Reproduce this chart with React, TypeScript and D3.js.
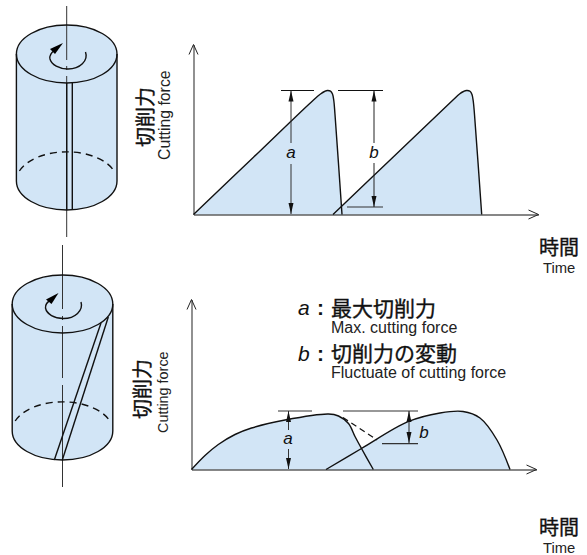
import React, { useEffect, useRef } from 'react';
import * as d3 from 'd3';

type Pt = [number, number];

// force curves [time, force]
const straightPulse1: Pt[] = [[0, 0], [60, 57.3], [120, 114.6], [127, 120.5], [131, 123], [134, 124], [137, 123.3], [139, 120.5], [140.3, 114], [141.5, 100], [148.5, 0]];
const straightPulse2: Pt[] = [[139.5, 0], [200, 57.7], [260, 115], [266, 120.5], [270, 123], [273, 124], [276.5, 123.3], [278.5, 120], [279.8, 113], [281, 100], [288.2, 0]];
const helicalPulse1: Pt[] = [[0, 0], [13.5, 14], [26.8, 25], [43.5, 35], [60, 41.5], [93.5, 49.5], [137, 55.5], [147, 53.5], [157, 46], [163.5, 33], [170, 21], [181.8, 0]];
const helicalPulse2: Pt[] = [[134.5, 0], [170, 21], [216.5, 47.8], [248.5, 56.5], [271.5, 58], [288.5, 51.5], [305.5, 29.5], [318.5, 0]];
const helicalDashed: Pt[] = [[151.5, 52], [185.5, 29.5]];

const sansFont = '"Liberation Sans", Arial, sans-serif';
const cjkFont = '"Noto Sans CJK JP", sans-serif';
const fillColor = '#d2e5f6';

const App = () => {
  const ref = useRef<SVGSVGElement>(null);

  useEffect(() => {
    const svg = d3.select(ref.current);
    svg.selectAll('*').remove();

    const text = (x, y, s, size, font, opts: any = {}) =>
      svg.append('text').attr('x', x).attr('y', y).text(s)
        .attr('font-size', size).attr('font-family', font)
        .attr('fill', opts.fill || '#111')
        .attr('stroke', opts.heavy ? '#111' : null)
        .attr('stroke-width', opts.heavy ? 0.35 : null)
        .attr('font-weight', opts.weight || 'normal')
        .attr('font-style', opts.style || 'normal')
        .attr('text-anchor', opts.anchor || 'start')
        .attr('transform', opts.rotate ? `rotate(-90 ${x} ${y})` : null);

    const seg = (g, x1, y1, x2, y2, color = '#111', width = 1.2) =>
      g.append('line').attr('x1', x1).attr('y1', y1).attr('x2', x2).attr('y2', y2)
        .attr('stroke', color).attr('stroke-width', width);

    // filled dimension arrow head, tip at (x, y), dir = 1 points down
    const head = (g, x, y, dir) =>
      g.append('path').attr('fill', '#111')
        .attr('d', `M${x},${y}L${x - 2.5},${y - dir * 11}L${x + 2.5},${y - dir * 11}Z`);

    // one chart panel: axes, pulses
    const panel = (ox, oy, pulses: Pt[][]) => {
      const x = d3.scaleLinear().domain([0, 345]).range([ox, ox + 345]);
      const y = d3.scaleLinear().domain([0, 170]).range([oy, oy - 170]);
      const g = svg.append('g');
      const area = d3.area<Pt>().x(d => x(d[0])).y0(y(0)).y1(d => y(d[1])).curve(d3.curveCatmullRom);
      const line = d3.line<Pt>().x(d => x(d[0])).y(d => y(d[1])).curve(d3.curveCatmullRom);

      g.selectAll('.fill').data(pulses).join('path').attr('fill', fillColor).attr('d', d => area(d));

      const ax = g.append('g').attr('transform', `translate(0,${oy})`).call(d3.axisBottom(x).ticks(0).tickSize(0).tickSizeOuter(0));
      ax.select('.domain').attr('stroke', '#111').attr('stroke-width', 1.2);
      const ay = g.append('g').attr('transform', `translate(${ox},0)`).call(d3.axisLeft(y).ticks(0).tickSize(0).tickSizeOuter(0));
      ay.select('.domain').attr('stroke', '#555').attr('stroke-width', 1.3);

      g.append('path').attr('fill', 'none').attr('stroke', '#222').attr('stroke-width', 1)
        .attr('d', `M${x(345) - 10},${oy - 4.5}L${x(345)},${oy}L${x(345) - 10},${oy + 4.5}`);
      g.append('path').attr('fill', 'none').attr('stroke', '#222').attr('stroke-width', 1)
        .attr('d', `M${ox - 4.5},${oy - 160}L${ox},${oy - 170}L${ox + 4.5},${oy - 160}`);

      g.selectAll('.curve').data(pulses).join('path').attr('fill', 'none').attr('stroke', '#111')
        .attr('stroke-width', 1.4).attr('d', d => line(d));
      return { g, x, y, line };
    };

    // cylinder with a cutting edge stripe and a centre axis
    const cylinder = (cx, top, bottom, axisSegs: number[][], edge: Pt[], swirl: string, arrow: string) => {
      const g = svg.append('g');
      const rx = 50.3, ry = 29;
      g.append('path').attr('fill', fillColor)
        .attr('d', `M${cx - rx},${top}A${rx},${ry} 0 0 1 ${cx + rx},${top}L${cx + rx},${bottom}A${rx},${ry} 0 0 1 ${cx - rx},${bottom}Z`);
      const st = { fill: 'none', stroke: '#111', 'stroke-width': 1.4 };
      const p = (d, dash = '') => {
        const e = g.append('path').attr('d', d);
        Object.entries(st).forEach(([k, v]) => e.attr(k, v as string));
        if (dash) e.attr('stroke-dasharray', dash);
        return e;
      };
      axisSegs.forEach(s => seg(g, cx, s[0], cx, s[1], '#333', 1));
      g.append('ellipse').attr('cx', cx).attr('cy', top).attr('rx', rx).attr('ry', ry)
        .attr('fill', 'none').attr('stroke', '#111').attr('stroke-width', 1.4);
      p(`M${cx - rx},${top}L${cx - rx},${bottom}A${rx},${ry} 0 0 0 ${cx + rx},${bottom}L${cx + rx},${top}`);
      // back edge of the bottom ellipse
      p(`M${cx - rx + 3},${bottom - 10}A${rx},${ry} 0 0 1 ${cx + rx - 3},${bottom - 10}`, '7 5');
      seg(g, edge[0][0], edge[0][1], edge[1][0], edge[1][1], '#111', 1.4);
      seg(g, edge[2][0], edge[2][1], edge[3][0], edge[3][1], '#111', 1.4);
      p(swirl);
      g.append('path').attr('fill', '#000').attr('d', arrow);
    };

    cylinder(66.7, 54, 181,
      [[6, 60], [66, 70], [76, 237]],
      [[66.7, 83], [66.7, 210], [72.3, 83], [72.3, 210]],
      'M85.5,52A18,13.5 0 0 1 68,69A18,12 0 0 1 50,59Q49,54 55,50',
      'M63,43L50,49L55,54Z');
    cylinder(62.5, 304, 431,
      [[245, 309], [316, 320], [326, 378], [385, 487]],
      [[54.3, 460], [101, 323], [62.3, 460], [108.3, 317]],
      'M81,302A18,13.5 0 0 1 63.5,318.5A18,12 0 0 1 45.5,308Q45,303 51,300',
      'M58.5,293L46,299.5L51.5,304Z');

    // straight tooth panel
    const top = panel(193.5, 214.5, [straightPulse1, straightPulse2]);
    const F = 124;
    const ty = top.y(F);
    seg(top.g, 281, ty, 314, ty);
    seg(top.g, 338, ty, 383, ty);
    seg(top.g, 347, 207, 383, 207, '#333');
    seg(top.g, 291, ty, 291, 143, '#333', 1);
    seg(top.g, 291, 164, 291, 214, '#333', 1);
    head(top.g, 291, ty, -1);
    head(top.g, 291, 214, 1);
    seg(top.g, 374, ty, 374, 143, '#222', 1);
    seg(top.g, 374, 163, 374, 207, '#222', 1);
    head(top.g, 374, ty, -1);
    head(top.g, 374, 207, 1);
    text(291, 158, 'a', 17, sansFont, { style: 'italic', anchor: 'middle' });
    text(374, 158, 'b', 17, sansFont, { style: 'italic', anchor: 'middle' });

    // helical tooth panel
    const bot = panel(191.5, 469.5, [helicalPulse1, helicalPulse2]);
    bot.g.append('path').attr('fill', 'none').attr('stroke', '#111').attr('stroke-width', 1.2)
      .attr('stroke-dasharray', '6 4').attr('d', d3.line<Pt>().x(d => bot.x(d[0])).y(d => bot.y(d[1]))(helicalDashed));
    const by = bot.y(58.5);
    seg(bot.g, 278, by, 312, by, '#333');
    seg(bot.g, 343, by, 418, by, '#333');
    seg(bot.g, 382, 443.7, 418, 443.7, '#333');
    seg(bot.g, 288.5, by, 288.5, 430, '#333', 1);
    seg(bot.g, 288.5, 449, 288.5, 469, '#333', 1);
    head(bot.g, 288.5, by, -1);
    head(bot.g, 288.5, 469, 1);
    seg(bot.g, 409, by, 409, 443, '#222', 1);
    head(bot.g, 409, by, -1);
    head(bot.g, 409, 443, 1);
    text(288, 444, 'a', 17, sansFont, { style: 'italic', anchor: 'middle' });
    text(424, 438, 'b', 17, sansFont, { style: 'italic', anchor: 'middle' });

    // axis titles
    text(153, 147, '切削力', 20, cjkFont, { rotate: true, heavy: true });
    text(169.5, 160, 'Cutting force', 15.8, sansFont, { rotate: true, fill: '#222' });
    text(150, 419, '切削力', 20, cjkFont, { rotate: true, heavy: true });
    text(168, 433, 'Cutting force', 14.4, sansFont, { rotate: true, fill: '#222' });
    text(539, 255, '時間', 20, cjkFont, { heavy: true });
    text(543, 273, 'Time', 14.8, sansFont, { fill: '#222' });
    text(539, 535, '時間', 20, cjkFont, { heavy: true });
    text(543, 553, 'Time', 14.8, sansFont, { fill: '#222' });

    // legend
    text(298, 315, 'a', 21, sansFont, { style: 'italic' });
    text(317, 315, ':', 21, sansFont, { weight: 'bold' });
    text(331, 316, '最大切削力', 21, cjkFont, { heavy: true });
    text(331, 333, 'Max. cutting force', 16, sansFont, { fill: '#222' });
    text(298, 361, 'b', 21, sansFont, { style: 'italic' });
    text(317, 361, ':', 21, sansFont, { weight: 'bold' });
    text(331, 361, '切削力の変動', 21, cjkFont, { heavy: true });
    text(331, 378, 'Fluctuate of cutting force', 16, sansFont, { fill: '#222' });
  }, []);

  return <svg ref={ref} width={587} height={555} style={{ position: 'absolute', left: 0, top: 0, background: '#fff' }} />;
};

export default App;
